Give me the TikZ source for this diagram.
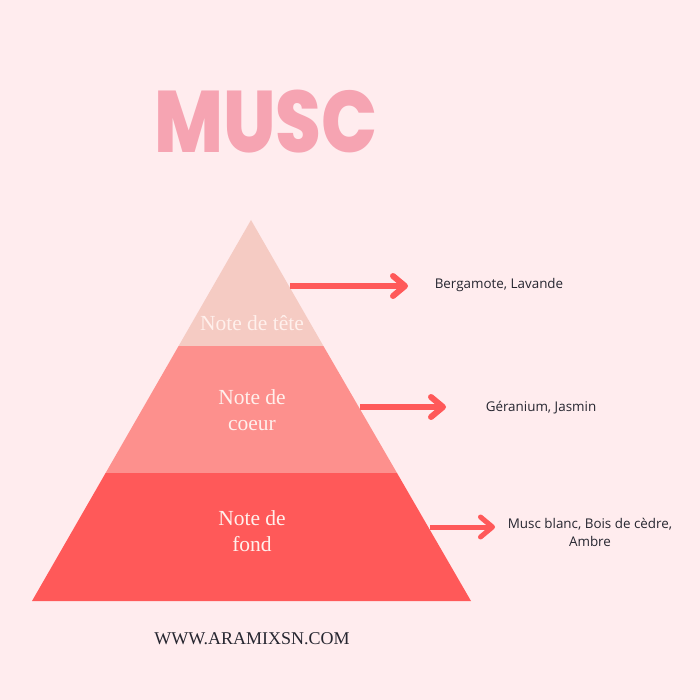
\documentclass[tikz,border=0pt]{standalone}
\usepackage{fontspec}
\usepackage{xcolor}
\usetikzlibrary{arrows.meta}
\setmainfont{Liberation Serif}
\newfontfamily\titlefont{Poppins}[BoldFont={Poppins ExtraBold}]
\newfontfamily\labelfont{Open Sans}
\definecolor{bgpink}{RGB}{255,236,238}
\definecolor{titlepink}{RGB}{246,164,178}
\definecolor{tetepink}{RGB}{245,203,195}
\definecolor{coeurpink}{RGB}{253,144,141}
\definecolor{fondred}{RGB}{255,89,89}
\definecolor{noteink}{RGB}{255,240,236}
\definecolor{labelink}{RGB}{38,38,48}
\tikzset{
    tiertext/.style={text=noteink, align=center, inner sep=0pt, font=\fontsize{21.5}{26.5}\selectfont},
    perfume/.style={text=labelink, align=center, inner sep=0pt, font=\labelfont\fontsize{13.4}{18}\selectfont},
    notearrow/.style={draw=fondred, line width=#1, -{Straight Barb[round,length=12pt,width=20pt]}}
}

\begin{document}
\begin{tikzpicture}[x=1pt,y=-1pt]
\useasboundingbox[fill=bgpink] (0,0) rectangle (700,700);

% Draw the pyramid
\fill[tetepink] (251,220) -- (323.4,346) -- (178.6,346) -- cycle;
\fill[coeurpink] (178.6,346) -- (323.4,346) -- (397,473) -- (105.6,473) -- cycle;
\fill[fondred] (105.6,473) -- (397,473) -- (471,601) -- (32,601) -- cycle;

\node[inner sep=0pt, xscale=0.82, yscale=0.97, text=titlepink, font=\titlefont\bfseries\fontsize{90}{90}\selectfont] (title) at (266,121.5) {MUSC};

\node[tiertext] (tete) at (252,323) {Note de tête};
\node[tiertext] (coeur) at (252,410) {Note de\\coeur};
\node[tiertext] (fond) at (252,531) {Note de\\fond};

\node[perfume] (bergamote) at (499,285) {Bergamote, Lavande};
\node[perfume] (geranium) at (541,408) {Géranium, Jasmin};
\node[perfume] (musc) at (590,532) {Musc blanc, Bois de cèdre,\\Ambre};

\node[inner sep=0pt, text=labelink, font=\fontsize{18}{20}\selectfont] (site) at (252,639) {WWW.ARAMIXSN.COM};

% Add arrows
\foreach \name/\xa/\xb/\y/\w in {tete/290/408/286/6pt, coeur/360/446/407/6pt, fond/430/495/527/5pt} {
    \coordinate (\name start) at (\xa,\y);
    \coordinate (\name end) at (\xb,\y);
    \draw[notearrow=\w] (\name start) -- (\name end);
}
\end{tikzpicture}
\end{document}
